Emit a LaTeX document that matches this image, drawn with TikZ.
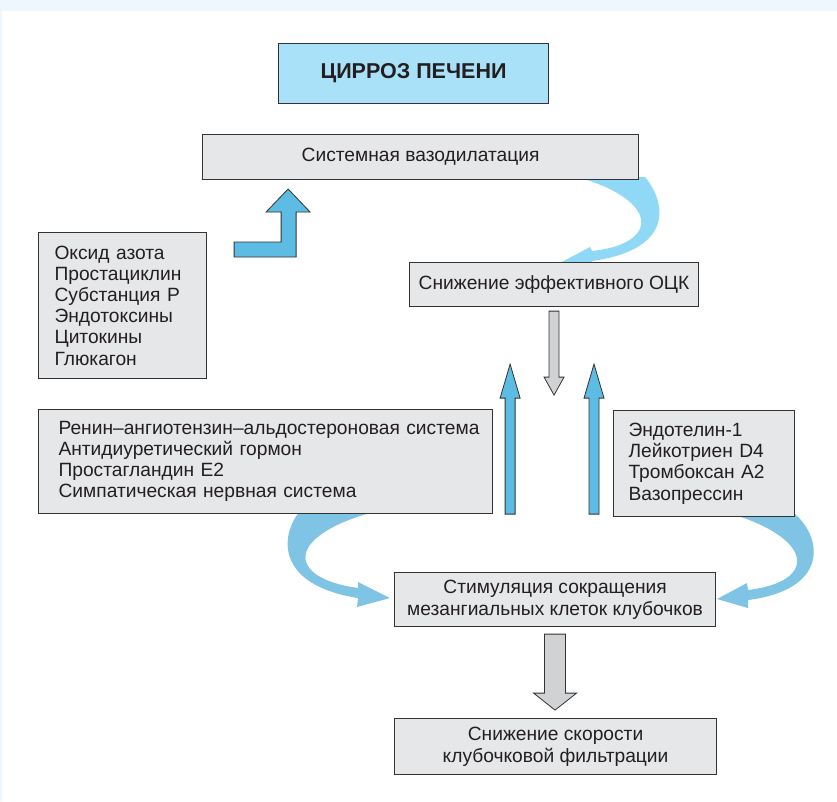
\documentclass[tikz,border=0pt]{standalone}
\usepackage{fontspec}
\setmainfont{Liberation Sans}
\usetikzlibrary{calc, backgrounds}
\definecolor{boxGray}{RGB}{230, 231, 232}
\definecolor{boxLine}{RGB}{51, 51, 51}
\definecolor{titleBlue}{RGB}{169, 225, 249}
\definecolor{curveLight}{RGB}{143, 217, 247}
\definecolor{curveBlue}{RGB}{127, 196, 228}
\definecolor{blockBlue}{RGB}{92, 188, 227}
\definecolor{blockGray}{RGB}{209, 210, 212}
\definecolor{textDark}{RGB}{35, 31, 32}
\definecolor{pageTint}{RGB}{239, 247, 254}

\begin{document}
\begin{tikzpicture}[
    x = 1pt, y = -1pt,
    box/.style = {draw=boxLine, fill=boxGray, line width=1.1pt, inner sep=0pt,
        anchor=north west, text=textDark, font=\fontsize{19.2}{21.2}\selectfont},
    blueBlock/.style = {fill=blockBlue, draw=boxLine, line width=0.8pt},
    grayBlock/.style = {fill=blockGray, draw=boxLine, line width=0.8pt}
  ]
  \useasboundingbox (0,0) rectangle (837,801);

  \node[box, fill=titleBlue, minimum width=270pt, minimum height=60pt,
    font=\fontsize{21.5}{25}\selectfont\bfseries] (cirrhosis) at (278,43) {ЦИРРОЗ ПЕЧЕНИ};
  \node[box, minimum width=436pt, minimum height=45pt] (vaso) at (202,134) {Системная вазодилатация};
  \node[box, minimum width=289pt, minimum height=44pt] (ocs) at (409,262) {Снижение эффективного ОЦК};

  \node[box, align=left, text width=146pt, inner xsep=11pt, minimum height=146pt] (dilators) at (38,232)
    {\hspace*{5pt}Оксид азота\\\hspace*{5pt}Простациклин\\\hspace*{5pt}Субстанция P\\
     \hspace*{5pt}Эндотоксины\\\hspace*{5pt}Цитокины\\\hspace*{5pt}Глюкагон};
  \node[box, align=left, text width=436pt, inner xsep=9pt, minimum height=104pt] (raas) at (38,409)
    {\hspace*{11pt}Ренин–ангиотензин–альдостероновая система\\\hspace*{11pt}Антидиуретический гормон\\
     \hspace*{11pt}Простагландин E2\\\hspace*{11pt}Симпатическая нервная система};
  \node[box, align=left, text width=151pt, inner xsep=15pt, minimum height=106pt] (endo) at (613,410)
    {Эндотелин-1\\Лейкотриен D4\\Тромбоксан A2\\Вазопрессин};

  \node[box, align=center, minimum width=321pt, minimum height=54pt, font=\fontsize{19.2}{22}\selectfont] (stim) at (394,572)
    {Стимуляция сокращения\\мезангиальных клеток клубочков};
  \node[box, align=center, minimum width=322pt, minimum height=56pt, font=\fontsize{19.2}{22}\selectfont] (gfr) at (394,718)
    {Снижение скорости\\клубочковой фильтрации};

  % block arrows
  \draw[blueBlock] ($(dilators.north east)+(27,10)$) -- ++(47,0) -- ++(0,-30) -- ++(-15,0) -- ++(22,-23)
    -- ++(22,23) -- ++(-14,0) -- ++(0,45) -- ++(-62,0) -- cycle;
  \draw[grayBlock] ($(ocs.south)+(0,4)$) ++(-5,0) -- ++(0,66) -- ++(-5,0) -- ++(10,18) -- ++(10,-18)
    -- ++(-5,0) -- ++(0,-66) -- cycle;
  \draw[blueBlock] ($(raas.south east)+(17,0)$) ++(-5,0) -- ++(0,-116) -- ++(-5,0) -- ++(10,-34) -- ++(10,34)
    -- ++(-5,0) -- ++(0,116) -- cycle;
  \draw[blueBlock] ($(endo.south west)+(-19,-3)$) ++(-5,0) -- ++(0,-116) -- ++(-5,0) -- ++(10,-34) -- ++(10,34)
    -- ++(-5,0) -- ++(0,116) -- cycle;
  \draw[grayBlock] ($(stim.south)+(0,7)$) ++(-10.5,0) -- ++(0,59) -- ++(-11,0) -- ++(21.5,17) -- ++(21.5,-17)
    -- ++(-11,0) -- ++(0,-59) -- cycle;

  % curved arrows behind the boxes
  \begin{scope}[on background layer]
    \fill[white] (0,0) rectangle (837,801);
    \fill[pageTint] (0,0) rectangle (837,10.5);
    \fill[pageTint] (0,0) rectangle (2,801);
    \fill[curveLight] (645,177) .. controls (668,205) and (672,250) .. (592,261) -- (593,270) -- (560,263)
      -- (590,247) -- (592,251) .. controls (660,244) and (660,200) .. (577,177) -- cycle;
    \fill[curveBlue] (300,511) .. controls (280,535) and (275,585) .. (358,598) -- (357,607) -- (390,598)
      -- (358,582) -- (358,588) .. controls (285,578) and (285,535) .. (377,511) -- cycle;
    \fill[curveBlue] (795,514) .. controls (824,540) and (827,590) .. (748,600) -- (748,608) -- (717,599)
      -- (747,583) -- (748,590) .. controls (816,582) and (816,540) .. (732,514) -- cycle;
  \end{scope}
\end{tikzpicture}
\end{document}
